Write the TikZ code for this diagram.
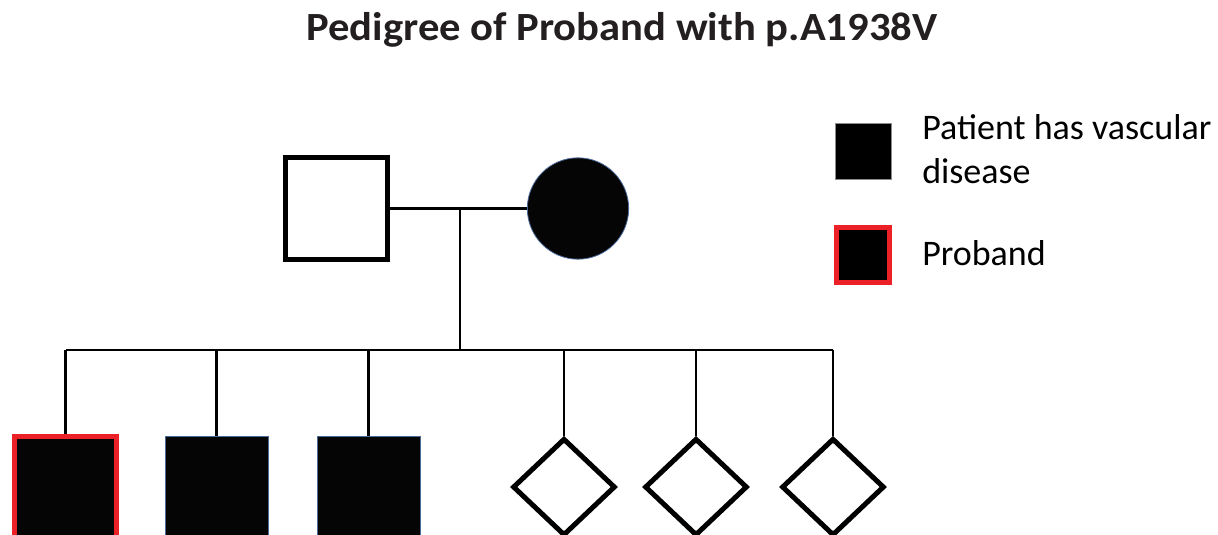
\documentclass[tikz,border=0pt]{standalone}
\usepackage{fontspec}
\setmainfont{Carlito}
\usetikzlibrary{shapes.geometric}
\definecolor{probred}{HTML}{EC2027}
\definecolor{edgeblue}{HTML}{4A6A9A}
\definecolor{titleink}{HTML}{231F20}
\tikzset{
  sq/.style={rectangle, inner sep=0pt, minimum width=76.5pt, minimum height=76.5pt},
  healthy/.style={sq, draw=black, fill=white, line width=3.75pt},
  affected/.style={sq, draw=edgeblue, fill=black!98, line width=0.6pt, minimum width=77.25pt, minimum height=77.25pt},
  proband/.style={sq, draw=probred, fill=black!98, line width=3.75pt},
  unknown/.style={diamond, draw=black, fill=white, line width=3.75pt, inner sep=0pt, minimum width=77pt, minimum height=73pt},
  female/.style={circle, draw=edgeblue, fill=black!98, line width=0.6pt, inner sep=0pt, minimum size=76pt},
  link/.style={line width=1.8pt, draw=black},
  drop/.style={line width=2pt, draw=black},
  legtext/.style={anchor=base west, inner sep=0pt, font=\fontsize{27}{32}\selectfont},
}
\begin{document}
\begin{tikzpicture}[x=0.75pt, y=-0.75pt]
  \clip (0,0) rectangle (1218,535);
  \fill[white] (0,0) rectangle (1218,535);

  % title
  \node[text=titleink, font=\bfseries\fontsize{30}{34}\selectfont, anchor=base, inner sep=0pt] (title) at (622,41)
    {\scalebox{1.065}[1]{Pedigree of Proband with p.A1938V}};

  % parents
  \node[healthy] (father) at (336.5,208.5) {};
  \node[female] (mother) at (578,208.5) {};
  \draw[link] (father.east) -- (mother.west);
  \coordinate (mate) at (460,208.5);
  \coordinate (sib) at (460,350);
  \draw[drop] (mate) -- (sib);

  % children
  \node[proband]  (c1) at (65.5,487.5) {};
  \node[affected] (c2) at (216.5,487.5) {};
  \node[affected] (c3) at (368.5,487.5) {};
  \node[unknown]  (c4) at (564,487) {};
  \node[unknown]  (c5) at (696,487) {};
  \node[unknown]  (c6) at (833,487) {};

  % sibship line
  \draw[link] (c1.north |- sib) -- (c6.north |- sib);
  \foreach \c in {c1,c2,c3,c4,c5,c6}
    \draw[drop] (\c.north |- sib) -- (\c.north);

  % legend
  \node[sq, draw=black!45, fill=black, line width=0.6pt, minimum width=42pt, minimum height=42pt] (keyaff) at (863,151) {};
  \node[sq, draw=probred, fill=black, line width=3.75pt, minimum width=39.75pt, minimum height=41pt] (keypro) at (863,255) {};
  \node[legtext] (keyaff1) at (922,140) {Patient has vascular};
  \node[legtext] (keyaff2) at (922,183) {disease};
  \node[legtext] (keypro1) at (922,265) {Proband};
\end{tikzpicture}
\end{document}
